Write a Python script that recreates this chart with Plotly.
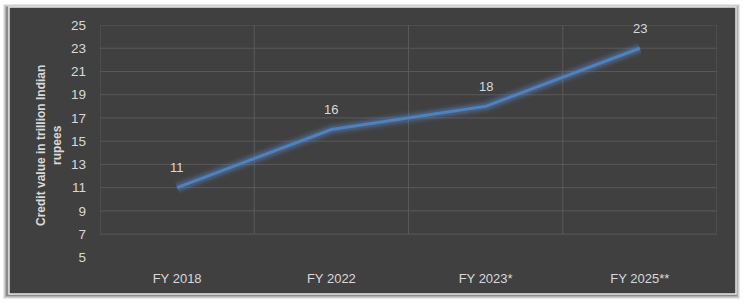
import plotly.graph_objects as go

categories = ["FY 2018", "FY 2022", "FY 2023*", "FY 2025**"]
credit_values = [11, 16, 18, 23]
y_ticks = [5, 7, 9, 11, 13, 15, 17, 19, 21, 23, 25]
y_title = "Credit value in trillion Indian<br>rupees"

W, H = 745, 303
L, R, T, B = 100, 28, 25, 34
PW, PH = W - L - R, H - T - B

def px(xp):
    return (xp - L) / PW

def py(yp):
    return 1 - (yp - T) / PH

BG = "#404040"
GRID = "#595959"
TXT = "#D9D9D9"
LINE = "#4F81BD"
FONT = "Liberation Sans"

fig = go.Figure()

# glow layers
for w, op in [(14, 0.08), (10, 0.12), (7, 0.18)]:
    fig.add_trace(go.Scatter(x=categories, y=credit_values, mode="lines",
                             line=dict(color="#5B8FD6", width=w), opacity=op,
                             hoverinfo="skip", showlegend=False))
fig.add_trace(go.Scatter(x=categories, y=credit_values, mode="lines",
                         line=dict(color=LINE, width=3), showlegend=False))

shapes = []
# outer shadow
for i, c in enumerate(["#e8e8e8", "#cfcfcf", "#b0b0b0", "#8a8a8a"]):
    d = 4 - i
    shapes.append(dict(type="rect", xref="paper", yref="paper", layer="below",
                       x0=px(9 - d - 2), x1=px(736 + d), y0=py(294 + d + 1), y1=py(7 - d + 1),
                       fillcolor=c, line=dict(width=0)))
shapes.append(dict(type="rect", xref="paper", yref="paper", layer="below",
                   x0=px(9), x1=px(736), y0=py(294), y1=py(7),
                   fillcolor=BG, line=dict(color="#E6E6E6", width=1.5)))
# horizontal grid lines (7..25)
for v in y_ticks[1:]:
    shapes.append(dict(type="line", xref="x", yref="y", layer="below",
                       x0=-0.5, x1=len(categories) - 0.5, y0=v, y1=v,
                       line=dict(color=GRID, width=1)))
# vertical category separators
for i in range(len(categories) + 1):
    shapes.append(dict(type="line", xref="x", yref="y", layer="below",
                       x0=i - 0.5, x1=i - 0.5, y0=y_ticks[1], y1=y_ticks[-1],
                       line=dict(color=GRID, width=1)))

annotations = []
for c, v in zip(categories, credit_values):
    annotations.append(dict(x=c, y=v, text=str(v), showarrow=False, yshift=20,
                            font=dict(family=FONT, size=13, color=TXT)))
annotations.append(dict(x=px(49), y=py(145), xref="paper", yref="paper",
                        xanchor="center", yanchor="middle",
                        text="<b>" + y_title + "</b>", textangle=-90, showarrow=False,
                        font=dict(family=FONT, size=12, color=TXT), align="center"))

fig.update_layout(
    width=W, height=H, margin=dict(l=L, r=R, t=T, b=B),
    paper_bgcolor="white", plot_bgcolor="rgba(0,0,0,0)",
    shapes=shapes, annotations=annotations,
    font=dict(family=FONT, size=13, color=TXT),
    xaxis=dict(type="category", range=[-0.5, len(categories) - 0.5], showgrid=False,
               zeroline=False, showline=False, ticks="", tickfont=dict(color=TXT, size=13)),
    yaxis=dict(range=[4, 25], tickvals=y_ticks, showgrid=False, zeroline=False,
               showline=False, ticks="", ticklabelstandoff=13,
               tickfont=dict(color=TXT, size=13.5)),
)

fig.write_html("out.html")
